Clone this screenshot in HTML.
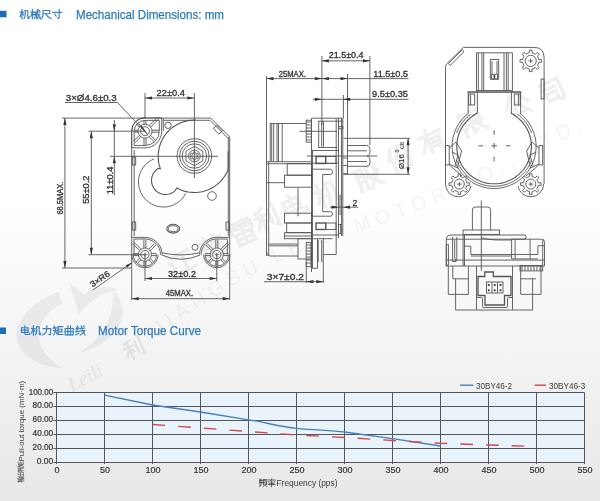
<!DOCTYPE html>
<html><head><meta charset="utf-8">
<style>
html,body{margin:0;padding:0;width:600px;height:501px;overflow:hidden;}
body{background:linear-gradient(#ffffff 0px,#ffffff 200px,#e8e8e8 501px);font-family:"Liberation Sans",sans-serif;}
svg{position:absolute;left:0;top:0;}
.ah{fill:#333;stroke:none;}
</style></head><body>
<svg width="600" height="501" viewBox="0 0 600 501" font-family="Liberation Sans, sans-serif">
<g id="wm">
<g opacity="0.06"><g transform="translate(181.0,262.0) rotate(-25) translate(-12,-12)"><g fill="none" stroke="#000" stroke-width="3.4" stroke-linecap="square" stroke-linejoin="miter"><path d="M1.20 2.40 L3.84 4.80"/><path d="M0.72 9.60 L3.36 12.00"/><path d="M0.48 22.80 L4.32 15.60"/><path d="M8.40 3.60 L22.80 3.60"/><path d="M15.60 3.60 L15.60 21.60"/><path d="M7.20 21.60 L23.76 21.60"/></g></g><g transform="translate(212.0,247.0) rotate(-25) translate(-12,-12)"><g fill="none" stroke="#000" stroke-width="3.4" stroke-linecap="square" stroke-linejoin="miter"><path d="M0.72 4.80 L23.28 4.80"/><path d="M7.20 0.48 L7.20 7.92"/><path d="M16.80 0.48 L16.80 7.92"/><path d="M3.60 12.00 L20.40 12.00 L19.92 22.80 L16.80 22.08"/><path d="M12.00 8.40 L10.80 16.80 L2.40 23.52"/><path d="M3.60 15.60 L1.20 20.40"/><path d="M22.32 15.60 L23.76 20.40"/></g></g><g transform="translate(243.0,232.0) rotate(-25) translate(-12,-12)"><g fill="none" stroke="#000" stroke-width="3.4" stroke-linecap="square" stroke-linejoin="miter"><path d="M2.40 1.20 L21.60 1.20"/><path d="M1.20 4.32 L1.20 10.80"/><path d="M1.20 4.32 L22.80 4.32 L22.80 10.80"/><path d="M12.00 1.20 L12.00 10.80"/><path d="M4.80 6.72 L8.40 7.68"/><path d="M15.60 6.72 L19.20 7.68"/><path d="M3.60 12.48 L20.40 12.48 L20.40 23.52 L3.60 23.52 L3.60 12.48"/><path d="M3.60 18.00 L20.40 18.00"/><path d="M12.00 12.48 L12.00 23.52"/></g></g><g transform="translate(267.0,218.0) rotate(-25) translate(-12,-12)"><g fill="none" stroke="#000" stroke-width="3.4" stroke-linecap="square" stroke-linejoin="miter"><path d="M2.40 3.60 L10.80 1.20"/><path d="M0.72 8.40 L12.00 8.40"/><path d="M6.48 2.40 L6.48 24.00"/><path d="M6.24 9.60 L0.72 19.20"/><path d="M6.72 10.80 L10.80 15.60"/><path d="M15.60 4.80 L15.60 18.00"/><path d="M21.60 0.72 L21.60 22.80 L19.20 21.60"/></g></g><g transform="translate(293.0,206.0) rotate(-25) translate(-12,-12)"><g fill="none" stroke="#000" stroke-width="3.4" stroke-linecap="square" stroke-linejoin="miter"><path d="M3.12 5.28 L19.68 5.28 L19.68 16.80 L3.12 16.80 L3.12 5.28"/><path d="M3.12 11.04 L19.68 11.04"/><path d="M11.52 0.48 L11.52 20.64 L12.96 22.32 L23.76 22.32 L23.76 18.72"/></g></g><g transform="translate(327.0,193.0) rotate(-25) translate(-12,-12)"><g fill="none" stroke="#000" stroke-width="3.4" stroke-linecap="square" stroke-linejoin="miter"><path d="M0.72 7.20 L9.60 7.20"/><path d="M5.28 0.72 L5.28 24.00"/><path d="M5.04 8.64 L0.48 18.72"/><path d="M6.00 10.32 L9.60 14.40"/><path d="M13.44 2.88 L13.44 14.40 L12.48 19.20 L10.56 23.04"/><path d="M13.44 2.88 L19.92 2.88 L19.92 21.12 L21.12 22.56 L23.52 22.56 L23.52 18.72"/></g></g><g transform="translate(368.0,177.0) rotate(-25) translate(-12,-12)"><g fill="none" stroke="#000" stroke-width="3.4" stroke-linecap="square" stroke-linejoin="miter"><path d="M1.92 1.92 L1.92 16.80 L0.48 23.52"/><path d="M1.92 1.92 L8.40 1.92 L8.40 22.80 L6.72 22.08"/><path d="M1.92 8.40 L8.40 8.40"/><path d="M1.92 14.40 L8.40 14.40"/><path d="M13.20 1.92 L13.20 7.20 L12.00 10.80"/><path d="M13.20 1.92 L20.40 1.92 L20.40 8.40 L23.52 8.40"/><path d="M12.00 12.00 L21.60 12.00 L12.00 23.52"/><path d="M13.92 14.40 L23.52 23.52"/></g></g><g transform="translate(400.0,158.0) rotate(-25) translate(-12,-12)"><g fill="none" stroke="#000" stroke-width="3.4" stroke-linecap="square" stroke-linejoin="miter"><path d="M6.00 0.72 L0.48 10.80"/><path d="M3.84 6.00 L3.84 24.00"/><path d="M14.40 0.72 L8.40 10.80"/><path d="M18.00 0.72 L23.76 10.80"/><path d="M9.60 13.20 L20.40 13.20 L19.92 22.80 L17.52 22.08"/><path d="M14.40 13.20 L12.00 20.40 L8.40 23.52"/></g></g><g transform="translate(431.0,140.0) rotate(-25) translate(-12,-12)"><g fill="none" stroke="#000" stroke-width="3.4" stroke-linecap="square" stroke-linejoin="miter"><path d="M0.72 6.00 L23.28 6.00"/><path d="M10.80 0.72 L6.00 12.00 L0.72 20.40"/><path d="M8.40 10.80 L8.40 23.52"/><path d="M8.40 10.80 L20.40 10.80 L20.40 22.80 L18.00 22.32"/><path d="M8.40 15.12 L20.40 15.12"/><path d="M8.40 19.20 L20.40 19.20"/></g></g><g transform="translate(472.0,122.0) rotate(-25) translate(-12,-12)"><g fill="none" stroke="#000" stroke-width="3.4" stroke-linecap="square" stroke-linejoin="miter"><path d="M1.92 1.20 L1.92 24.00"/><path d="M1.92 1.20 L7.20 1.20 L4.32 8.40 L7.68 14.40 L4.80 16.80"/><path d="M10.80 1.92 L21.12 1.92 L21.12 12.00 L10.80 12.00"/><path d="M10.80 6.96 L21.12 6.96"/><path d="M10.80 1.92 L10.80 22.32 L14.40 20.40"/><path d="M14.40 13.20 L23.76 23.52"/><path d="M22.80 13.20 L19.20 16.80"/></g></g><g transform="translate(517.0,105.0) rotate(-25) translate(-12,-12)"><g fill="none" stroke="#000" stroke-width="3.4" stroke-linecap="square" stroke-linejoin="miter"><path d="M8.40 0.72 L0.72 12.00"/><path d="M15.60 0.72 L23.52 12.00"/><path d="M12.00 9.60 L4.80 21.60 L20.40 20.40"/><path d="M16.80 15.60 L22.80 22.80"/></g></g><g transform="translate(552.0,91.0) rotate(-25) translate(-12,-12)"><g fill="none" stroke="#000" stroke-width="3.4" stroke-linecap="square" stroke-linejoin="miter"><path d="M2.40 2.40 L21.60 2.40 L21.60 21.60 L19.20 23.52 L16.80 22.08"/><path d="M3.60 8.40 L16.80 8.40"/><path d="M4.80 13.20 L15.60 13.20 L15.60 20.40 L4.80 20.40 L4.80 13.20"/></g></g></g>
<g font-family="Liberation Sans" font-size="20" fill="#000" opacity="0.045"><text transform="translate(162.1,333.1) rotate(-35.6)" text-anchor="middle">J</text><text transform="translate(173.1,325.2) rotate(-35.3)" text-anchor="middle">I</text><text transform="translate(185.5,316.6) rotate(-34.6)" text-anchor="middle">A</text><text transform="translate(201.8,305.6) rotate(-33.5)" text-anchor="middle">N</text><text transform="translate(219.2,294.3) rotate(-31.9)" text-anchor="middle">G</text><text transform="translate(236.5,283.9) rotate(-30.1)" text-anchor="middle">S</text><text transform="translate(253.6,274.4) rotate(-28.1)" text-anchor="middle">U</text><text transform="translate(280.3,261.1) rotate(-24.7)" text-anchor="middle">L</text><text transform="translate(296.8,253.9) rotate(-22.6)" text-anchor="middle">E</text><text transform="translate(310.8,248.2) rotate(-21.1)" text-anchor="middle">I</text><text transform="translate(324.0,243.4) rotate(-19.5)" text-anchor="middle">L</text><text transform="translate(337.4,238.8) rotate(-18.0)" text-anchor="middle">I</text><text transform="translate(364.1,230.2) rotate(-18.2)" text-anchor="middle">M</text><text transform="translate(384.8,223.2) rotate(-19.2)" text-anchor="middle">O</text><text transform="translate(403.3,216.6) rotate(-20.3)" text-anchor="middle">T</text><text transform="translate(421.6,209.5) rotate(-21.7)" text-anchor="middle">O</text><text transform="translate(440.8,201.6) rotate(-23.2)" text-anchor="middle">R</text><text transform="translate(469.5,188.7) rotate(-25.2)" text-anchor="middle">C</text><text transform="translate(488.1,179.7) rotate(-26.4)" text-anchor="middle">O</text><text transform="translate(502.7,172.3) rotate(-27.2)" text-anchor="middle">.</text><text transform="translate(512.7,167.1) rotate(-27.7)" text-anchor="middle">,</text><text transform="translate(535.0,155.1) rotate(-28.7)" text-anchor="middle">L</text><text transform="translate(550.3,146.7) rotate(-29.2)" text-anchor="middle">T</text><text transform="translate(566.8,137.3) rotate(-29.8)" text-anchor="middle">D</text><text transform="translate(580.5,129.5) rotate(-30.1)" text-anchor="middle">.</text></g>
<text transform="translate(72,392) rotate(-28)" font-family="Liberation Serif" font-style="italic" font-size="20" fill="#000" opacity="0.06">Leili</text>
<g transform="translate(134,348) rotate(-24) translate(-10,-10)" opacity="0.07"><g fill="none" stroke="#000" stroke-width="2.4" stroke-linecap="square" stroke-linejoin="miter"><path d="M2.00 3.00 L9.00 1.00"/><path d="M0.60 7.00 L10.00 7.00"/><path d="M5.40 2.00 L5.40 20.00"/><path d="M5.20 8.00 L0.60 16.00"/><path d="M5.60 9.00 L9.00 13.00"/><path d="M13.00 4.00 L13.00 15.00"/><path d="M18.00 0.60 L18.00 19.00 L16.00 18.00"/></g></g>
<g fill="#000" opacity="0.05"><path d="M58.7 292 C 30 302, 14 322, 17 340 C 20 356, 38 366, 62 368 C 45 357, 37 345, 39 332 C 41 319, 50 309, 62 304 Z"/><path d="M69 282 L79 314 C 89 301, 102 293, 119 290 C 108 285, 94 286, 84 294 Z"/><path d="M113 291 C 128 305, 126 326, 105 341 C 98 346, 90 350, 79 353 C 100 340, 114 322, 113 291 Z"/></g>
</g>
<!-- HEADERS -->
<g id="hdr">
<rect x="0" y="10.8" width="6.5" height="6.5" fill="#1f6db5"/>
<text x="76" y="18.5" font-size="12.2" fill="#2f7cbd" stroke="#2f7cbd" stroke-width="0.25" textLength="148" lengthAdjust="spacingAndGlyphs">Mechanical Dimensions: mm</text>
<rect x="0" y="327.5" width="6" height="6.5" fill="#1f6db5"/>
<text x="98" y="335" font-size="12.2" fill="#2f7cbd" stroke="#2f7cbd" stroke-width="0.25" textLength="103" lengthAdjust="spacingAndGlyphs">Motor Torque Curve</text>
</g>
<!-- CHART -->
<g id="chart">
<rect x="56.5" y="392.5" width="528" height="70" fill="#e8f3fc"/>
<g stroke="#555" stroke-width="1" fill="none">
<path d="M53.5 392.5H584.5 M53.5 406.5H584.5 M53.5 420.5H584.5 M53.5 434.5H584.5 M53.5 448.5H584.5 M53.5 462.5H584.5"/>
<path d="M56.5 392.5V464 M104.5 392.5V464 M152.5 392.5V464 M200.5 392.5V464 M248.5 392.5V464 M296.5 392.5V464 M344.5 392.5V464 M392.5 392.5V464 M440.5 392.5V464 M488.5 392.5V464 M536.5 392.5V464 M584.5 392.5V464"/>
</g>
<path fill="none" stroke="#4a7fb8" stroke-width="1.3" d="M104.5 395.2 L152.5 405 L200.5 412 L248.5 419.8 C265 422 280 427 296.5 428.3 C315 430 330 430.5 344.5 432 L392.5 438.6 L440.5 446"/>
<polyline fill="none" stroke="#d0494b" stroke-width="1.4" stroke-dasharray="12.7,13" points="152.5,424.5 200.5,428 248.5,431.5 296.5,435 344.5,437.5 392.5,440.5 440.5,443.3 488.5,445 536.5,446.5"/>
<g font-size="8.5" fill="#333" stroke="#333" stroke-width="0.2" text-anchor="end">
<text x="53.2" y="394.5" textLength="24.5" lengthAdjust="spacingAndGlyphs">100.00</text>
<text x="53.2" y="408.3" textLength="20.6" lengthAdjust="spacingAndGlyphs">80.00</text>
<text x="53.2" y="422.3" textLength="20.6" lengthAdjust="spacingAndGlyphs">60.00</text>
<text x="53.2" y="436.3" textLength="20.6" lengthAdjust="spacingAndGlyphs">40.00</text>
<text x="53.2" y="450.3" textLength="20.6" lengthAdjust="spacingAndGlyphs">20.00</text>
<text x="53.2" y="464.3" textLength="16.5" lengthAdjust="spacingAndGlyphs">0.00</text>
</g>
<g font-size="9" fill="#333" stroke="#333" stroke-width="0.2" text-anchor="middle">
<text x="56.9" y="473">0</text>
<text x="104.9" y="473">50</text>
<text x="152.9" y="473">100</text>
<text x="200.9" y="473">150</text>
<text x="248.9" y="473">200</text>
<text x="296.9" y="473">250</text>
<text x="344.9" y="473">300</text>
<text x="392.9" y="473">350</text>
<text x="440.9" y="473">400</text>
<text x="488.9" y="473">450</text>
<text x="536.9" y="473">500</text>
<text x="584.9" y="473">550</text>
</g>
<text x="276.5" y="485.6" font-size="9" fill="#3a3a3a" textLength="61" lengthAdjust="spacingAndGlyphs">Frequency (pps)</text>
<text transform="translate(24,461.6) rotate(-90)" font-size="8" fill="#3a3a3a" textLength="80.8" lengthAdjust="spacingAndGlyphs">Pull-out torque (mN·m)</text>
<line x1="460" y1="385.2" x2="473.5" y2="385.2" stroke="#4a7fb8" stroke-width="1.4"/>
<line x1="534.7" y1="385.2" x2="546" y2="385.2" stroke="#d0494b" stroke-width="1.4"/>
<text x="476" y="388.7" font-size="9.2" fill="#3a3a3a" textLength="36" lengthAdjust="spacingAndGlyphs">30BY46-2</text>
<text x="549" y="388.7" font-size="9.2" fill="#3a3a3a" textLength="36.3" lengthAdjust="spacingAndGlyphs">30BY46-3</text>
</g>
<!-- DRAWING -->
<g id="draw" stroke="#555" stroke-width="0.9" fill="none">
<path d="M62.0 118.1 L210.8 118.1"/>
<path d="M210.8 118.1 L229.7 137.0"/>
<path d="M229.7 137.0 L229.7 300.0"/>
<path d="M163.3 120.3 L210.0 120.3 L228.2 138.5"/>
<path d="M131.7 131.0 L131.7 300.0"/>
<path d="M131.7 131.0 L131.8 129.3 L132.2 127.6 L132.7 125.9 L133.5 124.3 L134.4 122.9 L135.6 121.6 L136.9 120.4 L138.3 119.5 L139.9 118.7 L141.6 118.2 L143.3 117.8 L145.0 117.7"/>
<path d="M88.5 131.2 L145.0 131.2"/>
<path d="M110.0 156.3 L218.0 156.3"/>
<path d="M88.4 254.7 L145.0 254.7"/>
<path d="M62.0 268.0 L131.7 268.0"/>
<path d="M64.9 118.1 L64.9 268.0"/>
<path class="ah" d="M64.9 118.1 L66.5 125.1 L63.3 125.1Z"/>
<path class="ah" d="M64.9 268.0 L63.3 261.0 L66.5 261.0Z"/>
<path d="M91.3 131.2 L91.3 254.7"/>
<path class="ah" d="M91.3 131.2 L92.9 138.2 L89.7 138.2Z"/>
<path class="ah" d="M91.3 254.7 L89.7 247.7 L92.9 247.7Z"/>
<path d="M114.3 120.0 L114.3 195.4"/>
<path class="ah" d="M114.3 131.2 L112.7 124.2 L115.9 124.2Z"/>
<path class="ah" d="M114.3 156.3 L115.9 163.3 L112.7 163.3Z"/>
<path d="M145.0 93.0 L145.0 118.3"/>
<path d="M194.4 93.0 L194.4 178.0"/>
<path d="M145.0 98.0 L194.4 98.0"/>
<path class="ah" d="M145.0 98.0 L152.0 96.4 L152.0 99.6Z"/>
<path class="ah" d="M194.4 98.0 L187.4 99.6 L187.4 96.4Z"/>
<path d="M145.0 255.0 L145.0 281.0"/>
<path d="M216.8 255.0 L216.8 281.0"/>
<path d="M145.0 278.5 L216.8 278.5"/>
<path class="ah" d="M145.0 278.5 L152.0 276.9 L152.0 280.1Z"/>
<path class="ah" d="M216.8 278.5 L209.8 280.1 L209.8 276.9Z"/>
<path d="M131.7 298.7 L229.7 298.7"/>
<path class="ah" d="M131.7 298.7 L138.7 297.1 L138.7 300.3Z"/>
<path class="ah" d="M229.7 298.7 L222.7 300.3 L222.7 297.1Z"/>
<path d="M65.0 102.5 L117.5 102.5 L148.0 135.0"/>
<path class="ah" d="M148 135 L140.2 126.3 L141.8 125.4Z"/>
<path d="M92.8 290.0 L132.3 262.4"/>
<path class="ah" d="M132.3 262.4 L127.3 267.5 L125.8 265.3Z"/>
<circle cx="145.0" cy="131.2" r="4.5"/>
<circle cx="145.0" cy="131.2" r="7.0"/>
<path d="M131.7 147.7 V131.2 A13.3 13.3 0 0 1 145 117.9 H161.7 V131.2 A16.7 16.7 0 0 1 145 147.9 Z"/>
<path d="M134.2 145.4 V131.2 A10.8 10.8 0 0 1 145 120.4 H159.3 V131.2 A14.3 14.3 0 0 1 145 145.5 Z"/>
<path d="M163.3 118.5 L163.3 131.0"/>
<path d="M152.0 130.2 L159.0 130.2"/>
<path d="M152.0 132.2 L159.0 132.2"/>
<path d="M150.7 135.4 L155.6 140.4"/>
<path d="M149.2 136.9 L154.2 141.8"/>
<path d="M146.0 138.2 L146.0 145.2"/>
<path d="M144.0 138.2 L144.0 145.2"/>
<path d="M140.8 136.9 L135.1 142.5"/>
<path d="M139.3 135.4 L133.7 141.1"/>
<path d="M138.0 132.2 L134.5 132.2"/>
<path d="M138.0 130.2 L134.5 130.2"/>
<path d="M139.3 127.0 L136.9 124.5"/>
<path d="M140.8 125.5 L138.3 123.1"/>
<path d="M144.0 124.2 L144.0 120.7"/>
<path d="M146.0 124.2 L146.0 120.7"/>
<path d="M149.2 125.5 L157.9 116.8"/>
<path d="M150.7 127.0 L159.4 118.3"/>
<circle cx="168.0" cy="125.3" r="3.2"/>
<path stroke-width="1.1" d="M228.2 151.3 L228.2 153.3 L228.2 155.3 L228.2 157.3 L228.2 159.3 L228.2 161.2 L228.2 163.2 L228.2 165.2 L228.2 167.1 L228.2 169.0 L227.5 170.9 L226.7 172.7 L225.7 174.4 L224.7 176.1 L223.5 177.8 L222.3 179.4 L221.0 180.9 L219.6 182.3 L218.1 183.6 L216.6 184.9 L215.0 186.1 L213.3 187.2 L211.5 188.2 L209.8 189.1 L207.9 189.9 L206.0 190.6 L204.1 191.2 L202.2 191.7 L200.2 192.0 L198.2 192.3 L196.2 192.5 L194.2 192.5 L192.2 192.4 L190.2 192.3 L188.3 192.0 L186.3 191.6 L184.3 191.1 L182.4 190.5 L180.6 189.8 L178.7 188.9 L177.0 188.0 L174.9 190.9 L173.6 191.9 L172.2 192.8 L170.8 193.5 L169.2 194.0 L167.6 194.3 L166.0 194.5 L164.4 194.5 L162.8 194.2 L161.2 193.8 L159.7 193.3 L158.3 192.5 L157.0 191.6 L155.7 190.5 L154.6 189.3 L153.7 188.0 L152.9 186.6 L152.3 185.1 L151.8 183.5 L151.6 181.9 L151.5 180.3 L151.6 178.7 L151.9 177.1 L152.4 175.6 L153.1 174.1 L153.9 172.7 L154.9 171.4 L156.0 170.2 L157.2 169.2 L158.6 168.3 L160.4 168.7 L159.8 166.8 L159.2 164.9 L158.8 163.0 L158.5 161.1 L158.3 159.1 L158.2 157.1 L158.2 155.2 L158.3 153.2 L158.6 151.3 L158.9 149.3 L159.3 147.4 L159.8 145.5 L160.5 143.7 L161.2 141.8 L162.1 140.1 L163.0 138.3 L164.0 136.6 L165.1 135.0 L166.3 133.5 L167.6 132.0 L169.0 130.6 L170.4 129.2 L171.9 127.9 L173.5 126.8 L175.1 125.7 L176.8 124.7 L178.5 123.8 L180.3 123.0 L182.2 122.2 L184.0 121.6 L185.9 121.1 L187.8 120.7 L189.8 120.4 L191.7 120.2 L193.7 120.1 L195.7 120.1"/>
<path d="M185.8 193.3 L184.4 195.7 L182.9 197.8 L181.1 199.8 L179.1 201.6 L176.9 203.1 L174.6 204.4 L172.1 205.5 L169.5 206.3 L166.9 206.8 L164.3 207.0 L161.6 206.9 L158.9 206.6 L156.3 206.0 L153.8 205.1 L151.4 203.9 L149.2 202.5 L147.1 200.8 L145.1 199.0 L143.4 196.9 L142.0 194.7 L140.7 192.3 L139.8 189.8 L139.1 187.3 L138.6 184.6 L138.5 181.9 L138.6 179.3 L139.1 176.6 L139.8 174.1 L140.8 171.6 L142.0 169.2 L143.5 167.0 L145.2 165.0 L147.1 163.1 L149.3 161.5 L151.5 160.1 L153.9 158.9"/>
<circle cx="194.4" cy="156.0" r="17.3"/>
<circle cx="194.4" cy="156.0" r="14.8"/>
<circle cx="194.4" cy="156.0" r="12.2"/>
<path d="M194.4 165.7 L186.0 160.8 L186.0 151.2 L194.4 146.3 L202.8 151.2 L202.8 160.8 L194.4 165.7"/>
<circle cx="194.4" cy="156.0" r="5.9"/>
<circle cx="197.3" cy="157.7" r="1.1"/>
<circle cx="194.4" cy="159.3" r="1.1"/>
<circle cx="191.5" cy="157.7" r="1.1"/>
<circle cx="191.5" cy="154.3" r="1.1"/>
<circle cx="194.4" cy="152.7" r="1.1"/>
<circle cx="197.3" cy="154.3" r="1.1"/>
<rect x="-2.4" y="-4" width="4.8" height="8" transform="translate(217.8,129.6) rotate(-45)"/>
<path d="M228.3 137.0 L228.3 236.0"/>
<rect x="132.3" y="222" width="3.4" height="8"/>
<rect x="226" y="222" width="3.4" height="8"/>
<rect x="132.3" y="157" width="3.4" height="8"/>
<path d="M134.2 150.0 L134.2 236.0"/>
<ellipse cx="173.2" cy="228.7" rx="6.4" ry="4.4" stroke-width="1.1"/>
<ellipse cx="173.2" cy="228.7" rx="4.8" ry="3"/>
<circle cx="212.0" cy="196.0" r="4.3"/>
<circle cx="195.0" cy="247.3" r="3.0"/>
<circle cx="144.9" cy="254.6" r="6.6"/>
<circle cx="144.9" cy="254.6" r="4.2"/>
<path d="M142.9 254.6 L146.9 254.6"/>
<path d="M144.9 252.6 L144.9 256.6"/>
<path d="M151.5 253.6 L156.5 253.6"/>
<path d="M151.5 255.6 L156.5 255.6"/>
<path d="M150.3 258.6 L153.8 262.1"/>
<path d="M148.9 260.0 L152.4 263.5"/>
<path d="M145.9 261.2 L145.9 266.2"/>
<path d="M143.9 261.2 L143.9 266.2"/>
<path d="M140.9 260.0 L137.4 263.5"/>
<path d="M139.5 258.6 L136.0 262.1"/>
<path d="M138.3 255.6 L133.3 255.6"/>
<path d="M138.3 253.6 L133.3 253.6"/>
<path d="M139.5 250.6 L132.5 243.6"/>
<path d="M140.9 249.2 L133.9 242.2"/>
<path d="M143.9 248.0 L143.9 239.6"/>
<path d="M145.9 248.0 L145.9 239.6"/>
<path d="M148.9 249.2 L154.5 243.6"/>
<path d="M150.3 250.6 L155.9 245.0"/>
<path d="M156.5 254.6 L156.3 256.6 L155.8 258.6 L154.9 260.4 L153.8 262.1 L152.4 263.5 L150.7 264.6 L148.9 265.5 L146.9 266.0 L144.9 266.2 L142.9 266.0 L140.9 265.5 L139.1 264.6 L137.4 263.5 L136.0 262.1 L134.9 260.4 L134.0 258.6 L133.5 256.6 L133.3 254.6"/>
<path d="M158.0 254.6 L157.8 256.9 L157.2 259.1 L156.2 261.1 L154.9 263.0 L153.3 264.6 L151.5 265.9 L149.4 266.9 L147.2 267.5 L144.9 267.7 L142.6 267.5 L140.4 266.9 L138.4 265.9 L136.5 264.6 L134.9 263.0 L133.6 261.1 L132.6 259.1 L132.0 256.9 L131.8 254.6"/>
<path d="M144.9 237.4 L147.1 237.5 L149.4 238.0 L151.5 238.7 L153.5 239.7 L155.4 241.0 L157.1 242.4 L158.5 244.1 L159.8 246.0 L160.8 248.0 L161.5 250.1 L162.0 252.4 L162.1 254.6"/>
<path d="M144.9 239.0 L146.9 239.1 L148.9 239.5 L150.9 240.2 L152.7 241.1 L154.4 242.2 L155.9 243.6 L157.3 245.1 L158.4 246.8 L159.3 248.6 L160.0 250.6 L160.4 252.6 L160.5 254.6"/>
<path d="M131.7 237.4 L144.9 237.4"/>
<path d="M134.0 239.0 L144.9 239.0"/>
<path d="M134.0 239.0 L134.0 254.6"/>
<circle cx="216.8" cy="254.6" r="6.6"/>
<circle cx="216.8" cy="254.6" r="4.2"/>
<path d="M214.8 254.6 L218.8 254.6"/>
<path d="M216.8 252.6 L216.8 256.6"/>
<path d="M223.4 253.6 L228.4 253.6"/>
<path d="M223.4 255.6 L228.4 255.6"/>
<path d="M222.2 258.6 L225.7 262.1"/>
<path d="M220.8 260.0 L224.3 263.5"/>
<path d="M217.8 261.2 L217.8 266.2"/>
<path d="M215.8 261.2 L215.8 266.2"/>
<path d="M212.8 260.0 L209.3 263.5"/>
<path d="M211.4 258.6 L207.9 262.1"/>
<path d="M210.2 255.6 L205.2 255.6"/>
<path d="M210.2 253.6 L205.2 253.6"/>
<path d="M211.4 250.6 L205.8 245.0"/>
<path d="M212.8 249.2 L207.2 243.6"/>
<path d="M215.8 248.0 L215.8 239.6"/>
<path d="M217.8 248.0 L217.8 239.6"/>
<path d="M220.8 249.2 L227.8 242.2"/>
<path d="M222.2 250.6 L229.2 243.6"/>
<path d="M228.4 254.6 L228.2 256.6 L227.7 258.6 L226.8 260.4 L225.7 262.1 L224.3 263.5 L222.6 264.6 L220.8 265.5 L218.8 266.0 L216.8 266.2 L214.8 266.0 L212.8 265.5 L211.0 264.6 L209.3 263.5 L207.9 262.1 L206.8 260.4 L205.9 258.6 L205.4 256.6 L205.2 254.6"/>
<path d="M229.9 254.6 L229.7 256.9 L229.1 259.1 L228.1 261.1 L226.8 263.0 L225.2 264.6 L223.4 265.9 L221.3 266.9 L219.1 267.5 L216.8 267.7 L214.5 267.5 L212.3 266.9 L210.2 265.9 L208.4 264.6 L206.8 263.0 L205.5 261.1 L204.5 259.1 L203.9 256.9 L203.7 254.6"/>
<path d="M199.6 254.6 L199.7 252.4 L200.2 250.1 L200.9 248.0 L201.9 246.0 L203.2 244.1 L204.6 242.4 L206.3 241.0 L208.2 239.7 L210.2 238.7 L212.3 238.0 L214.6 237.5 L216.8 237.4"/>
<path d="M201.2 254.6 L201.3 252.6 L201.7 250.6 L202.4 248.6 L203.3 246.8 L204.4 245.1 L205.8 243.6 L207.3 242.2 L209.0 241.1 L210.8 240.2 L212.8 239.5 L214.8 239.1 L216.8 239.0"/>
<path d="M216.8 237.4 L229.7 237.4"/>
<path d="M216.8 239.0 L227.4 239.0"/>
<path d="M227.4 239.0 L227.4 254.6"/>
<path d="M162.1 252.8 Q181 257 199.6 252.8"/>
<path d="M161.6 255 Q181 263.5 200.1 255"/>
<path d="M321.9 56.0 L321.9 125.0"/>
<path d="M369.9 56.0 L369.9 145.0"/>
<path d="M321.9 60.8 L369.9 60.8"/>
<path class="ah" d="M321.9 60.8 L328.9 59.2 L328.9 62.4Z"/>
<path class="ah" d="M369.9 60.8 L362.9 62.4 L362.9 59.2Z"/>
<path d="M266.5 76.0 L266.5 256.0"/>
<path d="M266.5 78.6 L408.5 78.6"/>
<path class="ah" d="M266.5 78.6 L273.5 77.0 L273.5 80.2Z"/>
<path class="ah" d="M321.9 78.6 L314.9 80.2 L314.9 77.0Z"/>
<path class="ah" d="M321.9 78.6 L328.9 77.0 L328.9 80.2Z"/>
<path class="ah" d="M347.5 78.6 L340.5 80.2 L340.5 77.0Z"/>
<path d="M347.5 74.0 L347.5 174.3"/>
<path d="M313.0 99.3 L408.5 99.3"/>
<path class="ah" d="M321.9 99.3 L314.9 100.9 L314.9 97.7Z"/>
<path class="ah" d="M343.2 99.3 L350.2 97.7 L350.2 100.9Z"/>
<path d="M343.4 95.0 L343.4 118.0"/>
<path d="M343.5 138.3 L410.0 138.3"/>
<path d="M343.5 174.3 L410.0 174.3"/>
<path d="M408.1 138.3 L408.1 174.3"/>
<path class="ah" d="M408.1 138.3 L409.7 145.3 L406.5 145.3Z"/>
<path class="ah" d="M408.1 174.3 L406.5 167.3 L409.7 167.3Z"/>
<path d="M299.5 131.3 L337.0 131.3"/>
<path d="M307.0 156.0 L377.0 156.0"/>
<path d="M270.2 123.5 L306.2 123.5"/>
<path d="M270.2 123.5 L270.2 161.7"/>
<path d="M271.7 123.5 L271.7 161.7"/>
<path d="M273.7 123.5 L273.7 161.7"/>
<path d="M277.0 123.5 L277.0 161.7"/>
<path d="M278.5 123.5 L278.5 161.7"/>
<path d="M282.2 123.5 L282.2 161.7"/>
<path d="M266.5 161.7 L311.5 161.7"/>
<path d="M266.5 163.7 L311.5 163.7"/>
<path d="M268.7 161.7 L268.7 256.0"/>
<rect x="306.2" y="120.2" width="5.3" height="22.0"/>
<path d="M306.2 122.0 L311.5 122.0"/>
<path d="M306.2 125.0 L311.5 125.0"/>
<path d="M306.2 128.0 L311.5 128.0"/>
<path d="M306.2 131.0 L311.5 131.0"/>
<path d="M306.2 134.0 L311.5 134.0"/>
<path d="M306.2 137.0 L311.5 137.0"/>
<path d="M306.2 140.0 L311.5 140.0"/>
<path d="M311.5 118.2 L343.0 118.2"/>
<path d="M311.5 118.2 L311.5 272.0"/>
<path d="M312.5 150.0 L312.5 268.0"/>
<path d="M318.7 121.2 L318.7 146.8"/>
<path d="M321.7 121.2 L321.7 146.8"/>
<path d="M323.5 121.2 L323.5 146.8"/>
<path d="M318.0 121.2 L343.0 121.2"/>
<path d="M336.2 118.2 L336.2 254.5"/>
<path d="M338.5 118.2 L338.5 238.0"/>
<path d="M341.5 118.2 L341.5 236.0"/>
<path d="M342.8 118.2 L342.8 236.0"/>
<rect x="338.8" y="126.4" width="4.0" height="2.4"/>
<path d="M318.0 147.5 L337.0 147.5"/>
<path d="M311.5 150.5 L338.5 150.5"/>
<rect x="316.0" y="156.5" width="9.7" height="7.0" stroke-width="1.4"/>
<rect x="325.7" y="156.5" width="10.3" height="7.0"/>
<path d="M311.5 163.2 L338.5 163.2"/>
<path d="M347.3 145.5 L367.0 145.5"/>
<path d="M347.3 150.8 L367.0 150.8"/>
<path d="M347.3 161.5 L367.0 161.5"/>
<path d="M347.3 166.3 L367.0 166.3"/>
<path d="M367 145.5 Q370 145.5 370 150.8 Q370 156.2 367 156.2 Q370 156.2 370 161.5 Q370 166.3 367 166.3"/>
<path d="M343.0 158.0 L347.3 158.0"/>
<path d="M343.0 165.5 L347.3 165.5"/>
<path d="M343.0 173.7 L347.3 173.7"/>
<rect x="287.2" y="163.7" width="24.3" height="11.5"/>
<rect x="284.5" y="175.2" width="27.0" height="12.0"/>
<path d="M266.5 182.7 L284.5 182.7"/>
<path d="M298.0 187.2 L298.0 216.2"/>
<path d="M312.5 169.2 H330.5 Q332.5 169.2 332.5 171.8 Q332.5 174.5 330.5 174.5 H322.7 V211.7 H330.5 Q332.5 211.7 332.5 214 Q332.5 216.2 330.5 216.2 H312.5"/>
<path d="M340.0 195.0 L340.0 215.0"/>
<path d="M330.0 207.2 L358.3 207.2"/>
<path class="ah" d="M338.5 207.2 L331.5 208.8 L331.5 205.6Z"/>
<path class="ah" d="M343.0 207.2 L350.0 205.6 L350.0 208.8Z"/>
<rect x="284.5" y="213.2" width="27.0" height="9.8"/>
<rect x="286.7" y="223.0" width="24.8" height="9.7"/>
<rect x="284.5" y="232.7" width="27.0" height="6.0"/>
<path d="M284.5 236.0 L311.5 236.0"/>
<path d="M268.7 244.0 L298.0 244.0"/>
<path d="M268.7 245.8 L298.0 245.8"/>
<rect x="298.0" y="238.7" width="13.5" height="20.3"/>
<rect x="306.2" y="242.5" width="4.8" height="24.2"/>
<path d="M306.2 245.0 L311.0 245.0"/>
<path d="M306.2 248.0 L311.0 248.0"/>
<path d="M306.2 251.0 L311.0 251.0"/>
<path d="M306.2 254.0 L311.0 254.0"/>
<path d="M306.2 257.0 L311.0 257.0"/>
<path d="M306.2 260.0 L311.0 260.0"/>
<path d="M306.2 263.0 L311.0 263.0"/>
<rect x="316.0" y="223.0" width="9.7" height="6.5" stroke-width="1.4"/>
<rect x="325.7" y="223.0" width="10.3" height="6.5"/>
<path d="M311.5 211.7 L311.5 216.2"/>
<path d="M311.5 235.0 L338.5 235.0"/>
<path d="M313.0 238.7 L332.5 238.7"/>
<rect x="338.5" y="224.5" width="2.2" height="9.0"/>
<path d="M317.5 238.7 L317.5 268.3"/>
<path d="M318.2 240.0 L318.2 262.0"/>
<path d="M321.7 240.0 L321.7 262.0"/>
<path d="M323.3 238.0 L323.3 283.0"/>
<path d="M323.5 254.5 L336.2 254.5"/>
<path d="M266.5 252 Q266.5 256 270 256 H298"/>
<path d="M311.5 268.3 L317.5 268.3"/>
<path d="M306.3 262.0 L306.3 283.0"/>
<path d="M264.0 281.7 L323.3 281.7"/>
<path class="ah" d="M306.3 281.7 L313.3 280.1 L313.3 283.3Z"/>
<path class="ah" d="M323.3 281.7 L316.3 283.3 L316.3 280.1Z"/>
<path d="M463.4 47.4 H534 Q544.1 47.4 544.1 57.5 V184 M463.4 47.4 L446.5 64 Q445.5 65.5 445.5 67.5 V184"/>
<path d="M448.4 63.6 L462.2 49.8 L464 51.6 L450.2 65.4Z"/>
<rect x="541.1" y="79.1" width="3.0" height="19.8"/>
<path d="M476.5 52.8 L512.4 52.8"/>
<path d="M476.5 52.8 L476.5 91.7"/>
<path d="M512.4 52.8 L512.4 91.7"/>
<path d="M478.3 52.8 L478.3 90.5"/>
<path d="M481.9 52.8 L481.9 90.5"/>
<path d="M483.7 52.8 L483.7 90.5"/>
<path d="M504.0 52.8 L504.0 90.5"/>
<path d="M506.4 52.8 L506.4 90.5"/>
<path d="M508.2 52.8 L508.2 90.5"/>
<path d="M476.5 90.5 L512.4 90.5"/>
<path d="M467.5 92.3 L521.6 92.3"/>
<rect x="490.3" y="59.4" width="8.4" height="19.7"/>
<path d="M492.0 61.0 L492.0 74.0"/>
<path d="M497.0 61.0 L497.0 74.0"/>
<rect x="491.5" y="74.3" width="6.0" height="4.8"/>
<rect x="493.6" y="75" width="1.6" height="3.5" class="ah"/>
<path d="M538.7 59.0 L538.8 59.6 L541.4 59.5 L541.4 62.3 L538.8 62.2 L538.7 62.8 L537.7 65.2 L537.3 65.7 L539.2 67.5 L537.3 69.4 L535.5 67.5 L535.0 67.9 L532.6 68.9 L532.0 69.0 L532.1 71.6 L529.3 71.6 L529.4 69.0 L528.8 68.9 L526.4 67.9 L525.9 67.5 L524.1 69.4 L522.2 67.5 L524.1 65.7 L523.7 65.2 L522.7 62.8 L522.6 62.2 L520.0 62.3 L520.0 59.5 L522.6 59.6 L522.7 59.0 L523.7 56.6 L524.1 56.1 L522.2 54.3 L524.1 52.4 L525.9 54.3 L526.4 53.9 L528.8 52.9 L529.4 52.8 L529.3 50.2 L532.1 50.2 L532.0 52.8 L532.6 52.9 L535.0 53.9 L535.5 54.3 L537.3 52.4 L539.2 54.3 L537.3 56.1 L537.7 56.6 L538.7 59.0"/>
<circle cx="530.7" cy="60.9" r="5.6"/>
<path d="M528.5 60.9 L532.9 60.9"/>
<path d="M530.7 58.7 L530.7 63.1"/>
<path d="M468.2 91.8 L520.6 91.8"/>
<path d="M468.2 91.8 L468.2 113.6"/>
<path d="M477.4 91.8 L477.4 113.2"/>
<path d="M520.6 91.8 L520.6 113.6"/>
<path d="M511.4 91.8 L511.4 113.2"/>
<rect x="468.7" y="94.0" width="6.0" height="11.0"/>
<path d="M470.6 94.0 L470.6 105.0"/>
<rect x="514.3" y="94.0" width="5.9" height="11.0"/>
<path d="M518.4 94.0 L518.4 105.0"/>
<path d="M477.4 113.1 L475.2 114.3 L473.1 115.7 L471.1 117.1 L469.2 118.8 L467.4 120.5 L465.7 122.3 L464.1 124.3 L462.7 126.3 L461.4 128.5 L460.3 130.7 L459.3 133.0 L458.5 135.4 L457.8 137.8 L457.3 140.2 L457.0 142.7 L456.8 145.2 L456.8 147.7 L457.0 150.2 L457.3 152.6 L457.8 155.1 L458.5 157.5 L459.3 159.8 L460.2 162.1 L461.4 164.4 L462.6 166.5 L464.0 168.6 L465.6 170.5 L467.3 172.4 L469.1 174.1 L471.0 175.8 L473.0 177.2 L475.1 178.6 L477.3 179.8 L479.5 180.8 L481.8 181.7 L484.2 182.5 L486.7 183.1 L489.1 183.5 L491.6 183.7 L494.1 183.8 L496.6 183.7 L499.1 183.5 L501.5 183.1 L504.0 182.5 L506.4 181.7 L508.7 180.8 L510.9 179.8 L513.1 178.6 L515.2 177.2 L517.2 175.8 L519.1 174.1 L520.9 172.4 L522.6 170.5 L524.2 168.6 L525.6 166.5 L526.8 164.4 L528.0 162.1 L528.9 159.8 L529.7 157.5 L530.4 155.1 L530.9 152.6 L531.2 150.2 L531.4 147.7 L531.4 145.2 L531.2 142.7 L530.9 140.2 L530.4 137.8 L529.7 135.4 L528.9 133.0 L527.9 130.7 L526.8 128.5 L525.5 126.3 L524.1 124.3 L522.5 122.3 L520.8 120.5 L519.0 118.8 L517.1 117.1 L515.1 115.7 L513.0 114.3 L510.8 113.1" stroke-width="1.1"/>
<path d="M468.1 113.5 L466.1 115.2 L464.3 117.0 L462.5 118.9 L460.8 120.9 L459.3 123.0 L457.9 125.2 L456.7 127.4 L455.6 129.8 L454.6 132.2 L453.8 134.7 L453.1 137.2 L452.6 139.7 L452.3 142.3 L452.1 144.9 L452.1 147.5 L452.3 150.1 L452.6 152.7 L453.0 155.2 L453.6 157.8 L454.4 160.2 L455.3 162.7 L456.4 165.0 L457.6 167.3 L459.0 169.5 L460.5 171.7 L462.1 173.7 L463.8 175.6 L465.7 177.4 L467.7 179.1 L469.7 180.7 L471.9 182.2 L474.1 183.5 L476.5 184.6 L478.9 185.6 L481.3 186.5 L483.8 187.2 L486.3 187.8 L488.9 188.2 L491.5 188.4 L494.1 188.5 L496.7 188.4 L499.3 188.2 L501.9 187.8 L504.4 187.2 L506.9 186.5 L509.3 185.6 L511.7 184.6 L514.1 183.5 L516.3 182.2 L518.5 180.7 L520.5 179.1 L522.5 177.4 L524.4 175.6 L526.1 173.7 L527.7 171.7 L529.2 169.5 L530.6 167.3 L531.8 165.0 L532.9 162.7 L533.8 160.2 L534.6 157.8 L535.2 155.2 L535.6 152.7 L535.9 150.1 L536.1 147.5 L536.1 144.9 L535.9 142.3 L535.6 139.7 L535.1 137.2 L534.4 134.7 L533.6 132.2 L532.6 129.8 L531.5 127.4 L530.3 125.2 L528.9 123.0 L527.4 120.9 L525.7 118.9 L523.9 117.0 L522.1 115.2 L520.1 113.5"/>
<path d="M456.7 160.1 L457.6 162.4 L458.6 164.6 L459.8 166.7 L461.1 168.8 L462.5 170.7 L464.1 172.6 L465.7 174.4 L467.5 176.1 L469.3 177.6 L471.3 179.1 L473.3 180.4 L475.4 181.6 L477.6 182.7 L479.8 183.7 L482.1 184.5 L484.5 185.1 L486.8 185.6 L489.2 186.0 L491.7 186.2 L494.1 186.3 L496.5 186.2 L499.0 186.0 L501.4 185.6 L503.7 185.1 L506.1 184.5 L508.4 183.7 L510.6 182.7 L512.8 181.6 L514.9 180.4 L516.9 179.1 L518.9 177.6 L520.7 176.1 L522.5 174.4 L524.1 172.6 L525.7 170.7 L527.1 168.8 L528.4 166.7 L529.6 164.6 L530.6 162.4 L531.5 160.1"/>
<path d="M470.7 114.3 L468.8 115.7 L467.1 117.3 L465.4 119.0 L463.8 120.7 L462.3 122.5 L460.9 124.5 L459.7 126.5 L458.6 128.6 L457.6 130.7 L456.7 132.9"/>
<path d="M531.5 132.9 L530.6 130.7 L529.6 128.6 L528.5 126.5 L527.3 124.5 L525.9 122.5 L524.4 120.7 L522.8 119.0 L521.1 117.3 L519.4 115.7 L517.5 114.3"/>
<path d="M494.1 130.2 L494.1 134.8"/>
<path d="M494.1 156.8 L494.1 161.4"/>
<path d="M478.5 145.8 L483.1 145.8"/>
<path d="M506.0 145.8 L510.6 145.8"/>
<path d="M491.3 145.8 L496.9 145.8"/>
<path d="M494.1 143.0 L494.1 148.6"/>
<rect x="445.5" y="145.6" width="3.7" height="19.3"/>
<rect x="539.0" y="145.6" width="3.7" height="19.3"/>
<path d="M449.2 148 L456 142 L461.5 151 L457.5 168 L449.2 164"/>
<path d="M452 152 L458 155 L455 166"/>
<path d="M538.9 148 L532.1 142 L526.6 151 L530.6 168 L538.9 164"/>
<path d="M536.1 152 L530.1 155 L533.1 166"/>
<path d="M449.2 164.9 L462.0 176.0"/>
<path d="M538.9 164.9 L526.0 176.0"/>
<path d="M445.5 184 A12.8 12.8 0 0 0 458.3 196.8 A12.8 12.8 0 0 0 471 186 M543.6 184 A12.8 12.8 0 0 1 530.8 196.8 A12.8 12.8 0 0 1 518 186"/>
<path d="M466.7 182.4 L466.8 182.9 L469.6 182.8 L469.6 185.4 L466.8 185.3 L466.7 185.8 L465.8 188.1 L465.5 188.5 L467.5 190.5 L465.7 192.3 L463.7 190.3 L463.3 190.6 L461.0 191.5 L460.5 191.6 L460.6 194.4 L458.0 194.4 L458.1 191.6 L457.6 191.5 L455.3 190.6 L454.9 190.3 L452.9 192.3 L451.1 190.5 L453.1 188.5 L452.8 188.1 L451.9 185.8 L451.8 185.3 L449.0 185.4 L449.0 182.8 L451.8 182.9 L451.9 182.4 L452.8 180.1 L453.1 179.7 L451.1 177.7 L452.9 175.9 L454.9 177.9 L455.3 177.6 L457.6 176.7 L458.1 176.6 L458.0 173.8 L460.6 173.8 L460.5 176.6 L461.0 176.7 L463.3 177.6 L463.7 177.9 L465.7 175.9 L467.5 177.7 L465.5 179.7 L465.8 180.1 L466.7 182.4"/>
<circle cx="459.3" cy="184.1" r="5.0"/>
<path d="M457.1 184.1 L461.5 184.1"/>
<path d="M459.3 181.9 L459.3 186.3"/>
<path d="M538.2 182.4 L538.3 182.9 L541.1 182.8 L541.1 185.4 L538.3 185.3 L538.2 185.8 L537.3 188.1 L537.0 188.5 L539.0 190.5 L537.2 192.3 L535.2 190.3 L534.8 190.6 L532.5 191.5 L532.0 191.6 L532.1 194.4 L529.5 194.4 L529.6 191.6 L529.1 191.5 L526.8 190.6 L526.4 190.3 L524.4 192.3 L522.6 190.5 L524.6 188.5 L524.3 188.1 L523.4 185.8 L523.3 185.3 L520.5 185.4 L520.5 182.8 L523.3 182.9 L523.4 182.4 L524.3 180.1 L524.6 179.7 L522.6 177.7 L524.4 175.9 L526.4 177.9 L526.8 177.6 L529.1 176.7 L529.6 176.6 L529.5 173.8 L532.1 173.8 L532.0 176.6 L532.5 176.7 L534.8 177.6 L535.2 177.9 L537.2 175.9 L539.0 177.7 L537.0 179.7 L537.3 180.1 L538.2 182.4"/>
<circle cx="530.8" cy="184.1" r="5.0"/>
<path d="M528.6 184.1 L533.0 184.1"/>
<path d="M530.8 181.9 L530.8 186.3"/>
<path d="M481.3 200.5 L481.3 270.8"/>
<path d="M472.4 230 V210 Q472.4 207 475.4 207 H487.6 Q490.6 207 490.6 210 V230"/>
<rect x="463.1" y="230.0" width="36.5" height="4.4"/>
<path d="M446.3 266 V239 Q446.3 235 450.3 235 H525.3 Q527 237 525.3 239.2 H446.3"/>
<path d="M511.6 239.2 H541.5 Q544.5 239.2 544.5 242.2 V266"/>
<path d="M542.7 239.2 L542.7 266.0"/>
<path d="M445.5 266.0 L544.5 266.0"/>
<rect x="446.3" y="244.8" width="2.1" height="20.2"/>
<path d="M452.6 237 V261.5 L456 261.5 L454.7 258 V240 M456.8 237 V261"/>
<path d="M463.1 235.0 L463.1 266.0"/>
<path d="M464.5 235.0 L464.5 266.0"/>
<path d="M464.5 246.2 H470.8 V254.5 H537.9 V245.7 H544 M470.8 256 H511.6"/>
<path d="M511.6 239.2 L511.6 258.9"/>
<path d="M515.1 239.2 L515.1 258.9"/>
<path d="M511.6 258.9 L537.9 258.9"/>
<path d="M530.1 239.2 L530.1 258.9"/>
<path d="M481 237.5 Q488 240 500 240 H511.6"/>
<path d="M445.5 260.1 L544.5 260.1"/>
<path d="M448.3 266 V294.4 H468.4 V266 M452.8 266 V278.8 H468.4 M455.6 278.8 V310 H532.6 V278.8 M520.7 266 V294.4 H541 V266 M520.7 278.8 H536"/>
<rect x="520.0" y="265.5" width="22.7" height="5.4"/>
<path d="M522.0 265.5 L522.0 270.9"/>
<path d="M525.0 265.5 L525.0 270.9"/>
<path d="M528.0 265.5 L528.0 270.9"/>
<path d="M531.0 265.5 L531.0 270.9"/>
<path d="M534.0 265.5 L534.0 270.9"/>
<path d="M537.0 265.5 L537.0 270.9"/>
<path d="M540.0 265.5 L540.0 270.9"/>
<path d="M476.5 266.0 L476.5 310.0"/>
<path d="M512.5 266.0 L512.5 310.0"/>
<path stroke-width="1.3" d="M478 295.5 V276.5 H484.8 V272 H493.3 V276.5 H511 V295.5 H504.5 V305 H485 V295.5 Z"/>
<path d="M476.5 297.5 H481.5 Q482.5 297.5 482.5 299 V306.5 Q482.5 307.5 484 307.5 H506 Q507.5 307.5 507.5 306.5 V299 Q507.5 297.5 508.5 297.5 H512.5"/>
<rect x="486.5" y="282.0" width="16.5" height="11.0"/>
<path d="M492.0 282.0 L492.0 293.0"/>
<path d="M497.5 282.0 L497.5 293.0"/>
<rect class="ah" x="487.9" y="284.1" width="1.8" height="1.8"/>
<rect class="ah" x="487.9" y="289.4" width="1.8" height="1.8"/>
<rect class="ah" x="493.8" y="284.1" width="1.8" height="1.8"/>
<rect class="ah" x="493.8" y="289.4" width="1.8" height="1.8"/>
<rect class="ah" x="499.6" y="284.1" width="1.8" height="1.8"/>
<rect class="ah" x="499.6" y="289.4" width="1.8" height="1.8"/>

</g>
<g id="texts" fill="#333">
<g font-size="8.4" fill="#333" stroke="#333" stroke-width="0.3">
<text x="65.8" y="100.8" textLength="50.9" lengthAdjust="spacingAndGlyphs">3×Ø4.6±0.3</text>
<text x="156.6" y="96" textLength="28.4" lengthAdjust="spacingAndGlyphs">22±0.4</text>
<text transform="translate(62.9,214.6) rotate(-90)" textLength="33" lengthAdjust="spacingAndGlyphs">68.5MAX.</text>
<text transform="translate(89.3,203.8) rotate(-90)" textLength="28.2" lengthAdjust="spacingAndGlyphs">55±0.2</text>
<text transform="translate(112.6,194.2) rotate(-90)" textLength="27.6" lengthAdjust="spacingAndGlyphs">11±0.4</text>
<text x="168" y="276.6" textLength="28" lengthAdjust="spacingAndGlyphs">32±0.2</text>
<text x="165.7" y="296.4" textLength="27.4" lengthAdjust="spacingAndGlyphs">45MAX.</text>
<text transform="translate(92.6,287.6) rotate(-35)" textLength="22" lengthAdjust="spacingAndGlyphs">3×R6</text>
<text x="328.8" y="58" textLength="34.7" lengthAdjust="spacingAndGlyphs">21.5±0.4</text>
<text x="278.7" y="76.8" textLength="27.2" lengthAdjust="spacingAndGlyphs">25MAX.</text>
<text x="373.3" y="76.5" textLength="34.7" lengthAdjust="spacingAndGlyphs">11.5±0.5</text>
<text x="372" y="97" textLength="36" lengthAdjust="spacingAndGlyphs">9.5±0.35</text>
<text x="352.5" y="205.8" textLength="4.8" lengthAdjust="spacingAndGlyphs">2</text>
<text x="266.7" y="280" textLength="37.3" lengthAdjust="spacingAndGlyphs">3×7±0.2</text>
<text transform="translate(403.6,169) rotate(-90)" font-size="7.6" stroke-width="0.15" textLength="14.8" lengthAdjust="spacingAndGlyphs">Ø16</text>
<text transform="translate(399.2,152.5) rotate(-90)" font-size="4.6" stroke-width="0.1" textLength="3" lengthAdjust="spacingAndGlyphs">0</text>
<text transform="translate(404,149.6) rotate(-90)" font-size="4.6" stroke-width="0.1" textLength="7.6" lengthAdjust="spacingAndGlyphs">-0.25</text>
</g>

</g>
<g id="cjk">
<g fill="none" stroke="#3580c0" stroke-width="1.15" stroke-linecap="square" stroke-linejoin="miter"><path d="M20.09 12.18 L23.64 12.18"/><path d="M21.91 9.59 L21.91 18.90"/><path d="M21.82 12.76 L19.99 16.79"/><path d="M22.20 13.43 L23.64 15.06"/><path d="M25.18 10.45 L25.18 15.06 L24.79 16.98 L24.02 18.52"/><path d="M25.18 10.45 L27.77 10.45 L27.77 17.75 L28.25 18.32 L29.21 18.32 L29.21 16.79"/><path d="M30.84 12.18 L33.72 12.18"/><path d="M32.38 9.59 L32.38 18.90"/><path d="M32.28 12.76 L30.75 16.50"/><path d="M32.57 13.43 L33.72 14.87"/><path d="M34.30 11.99 L40.15 11.99"/><path d="M37.37 9.59 L37.66 13.14 L38.62 16.50 L40.15 18.52 L40.15 16.98"/><path d="M38.71 9.88 L39.58 10.64"/><path d="M34.39 14.58 L37.37 14.58"/><path d="M35.26 12.76 L35.26 16.50 L34.49 18.52"/><path d="M36.60 12.76 L36.60 18.71"/><path d="M39.67 14.29 L37.18 18.52"/><path d="M43.04 10.45 L49.76 10.45 L49.76 13.72 L43.04 13.72"/><path d="M43.04 10.45 L43.04 15.25 L42.46 17.46 L41.69 18.71"/><path d="M45.92 13.91 L47.74 16.50 L51.00 18.71"/><path d="M52.64 12.37 L61.76 12.37"/><path d="M59.17 9.59 L59.17 17.94 L58.69 18.42 L57.53 17.84"/><path d="M54.85 14.10 L56.09 16.02"/></g>
<g fill="none" stroke="#3580c0" stroke-width="1.15" stroke-linecap="square" stroke-linejoin="miter"><path d="M21.45 327.71 L28.07 327.71 L28.07 332.32 L21.45 332.32 L21.45 327.71"/><path d="M21.45 330.02 L28.07 330.02"/><path d="M24.81 325.79 L24.81 333.86 L25.38 334.53 L29.70 334.53 L29.70 333.09"/><path d="M31.54 328.48 L35.09 328.48"/><path d="M33.36 325.89 L33.36 335.20"/><path d="M33.27 329.06 L31.44 333.09"/><path d="M33.65 329.73 L35.09 331.36"/><path d="M36.63 326.75 L36.63 331.36 L36.24 333.28 L35.47 334.82"/><path d="M36.63 326.75 L39.22 326.75 L39.22 334.05 L39.70 334.62 L40.66 334.62 L40.66 333.09"/><path d="M43.07 328.67 L50.75 328.67 L50.56 334.24 L49.98 334.82 L48.83 334.43"/><path d="M46.91 325.89 L46.72 329.92 L45.66 332.80 L42.78 335.01"/><path d="M54.31 326.08 L53.54 328.67"/><path d="M54.02 327.90 L57.19 327.90"/><path d="M53.54 330.59 L57.48 330.59"/><path d="M55.46 327.90 L55.46 330.69 L54.69 333.28 L53.54 335.01"/><path d="M55.75 331.65 L57.48 334.43"/><path d="M62.85 326.56 L58.15 326.56 L58.15 334.53 L62.85 334.53"/><path d="M58.15 329.25 L61.99 329.25 L61.99 331.84 L58.15 331.84"/><path d="M65.17 328.48 L73.23 328.48 L73.23 334.82 L65.17 334.82 L65.17 328.48"/><path d="M65.17 331.65 L73.23 331.65"/><path d="M67.86 325.89 L67.86 334.82"/><path d="M70.54 325.89 L70.54 334.82"/><path d="M77.66 325.98 L76.03 328.86 L78.33 328.67"/><path d="M78.62 327.71 L75.83 331.94 L78.91 331.36"/><path d="M75.64 334.82 L78.91 333.47"/><path d="M79.77 328.67 L84.57 328.10"/><path d="M79.58 331.17 L84.86 330.40"/><path d="M81.21 325.89 L82.46 330.40 L84.95 335.01"/><path d="M83.32 325.98 L84.09 326.75"/><path d="M84.28 331.94 L80.25 335.01"/></g>
<g fill="none" stroke="#444" stroke-width="0.85" stroke-linecap="square" stroke-linejoin="miter"><path d="M259.72 480.40 L262.46 480.40"/><path d="M260.98 478.96 L260.98 482.40"/><path d="M259.65 482.40 L262.68 482.40"/><path d="M260.24 483.20 L259.65 484.80"/><path d="M262.09 483.20 L259.65 486.64"/><path d="M259.87 479.20 L259.87 482.40"/><path d="M263.20 479.60 L266.75 479.60"/><path d="M263.57 480.80 L266.53 480.80 L266.53 484.80 L263.57 484.80 L263.57 480.80"/><path d="M263.57 482.80 L266.53 482.80"/><path d="M264.31 485.60 L263.20 486.64"/><path d="M265.79 485.60 L266.75 486.64"/><path d="M271.60 478.96 L271.60 479.84"/><path d="M268.12 480.00 L275.08 480.00"/><path d="M270.49 480.80 L272.34 482.16 L270.34 483.28 L272.71 483.44"/><path d="M268.64 481.20 L269.38 482.00"/><path d="M274.56 481.20 L273.82 482.00"/><path d="M268.12 484.56 L275.08 484.56"/><path d="M271.60 483.44 L271.60 486.80"/><path d="M268.64 482.80 L269.38 483.60"/><path d="M274.56 482.80 L273.82 483.60"/></g>
<g fill="none" stroke="#444" stroke-width="0.55" stroke-linecap="square" stroke-linejoin="miter" transform="translate(24.2,482.3) rotate(-90)"><path d="M0.15 -5.67 L1.96 -5.67"/><path d="M0.98 -6.48 L0.59 -4.12 L1.96 -4.12"/><path d="M0.10 -2.57 L1.96 -3.19"/><path d="M1.08 -5.05 L1.08 -0.40"/><path d="M3.43 -6.48 L2.21 -4.43"/><path d="M3.43 -6.48 L4.85 -4.43"/><path d="M2.84 -4.37 L4.17 -4.37"/><path d="M2.45 -3.50 L3.43 -3.50 L3.43 -0.52"/><path d="M2.45 -3.50 L2.45 -0.52"/><path d="M2.45 -2.07 L3.43 -2.07"/><path d="M4.02 -3.50 L4.02 -1.33"/><path d="M4.70 -3.81 L4.70 -0.52"/><path d="M7.65 -6.48 L7.65 -0.71"/><path d="M5.84 -5.79 L5.84 -3.62 L9.46 -3.62 L9.46 -5.79"/><path d="M5.49 -3.13 L5.49 -0.71 L9.81 -0.71 L9.81 -3.13"/><path d="M10.55 -5.67 L12.36 -5.67"/><path d="M11.38 -6.48 L10.99 -4.12 L12.36 -4.12"/><path d="M10.50 -2.57 L12.36 -3.19"/><path d="M11.48 -5.05 L11.48 -0.40"/><path d="M12.75 -5.05 L15.20 -5.05"/><path d="M12.61 -3.50 L15.25 -3.50"/><path d="M14.07 -6.48 L13.34 -2.26 L14.81 -2.26 L14.22 -0.52"/><path d="M14.07 -1.64 L14.81 -0.71"/><path d="M16.09 -6.29 L15.70 -4.62"/><path d="M15.94 -5.11 L17.56 -5.11"/><path d="M15.70 -3.38 L17.71 -3.38"/><path d="M16.68 -5.11 L16.68 -3.31 L16.29 -1.64 L15.70 -0.52"/><path d="M16.83 -2.69 L17.71 -0.90"/><path d="M20.45 -5.98 L18.05 -5.98 L18.05 -0.83 L20.45 -0.83"/><path d="M18.05 -4.24 L20.01 -4.24 L20.01 -2.57 L18.05 -2.57"/></g>

</g>
</svg>
</body></html>
